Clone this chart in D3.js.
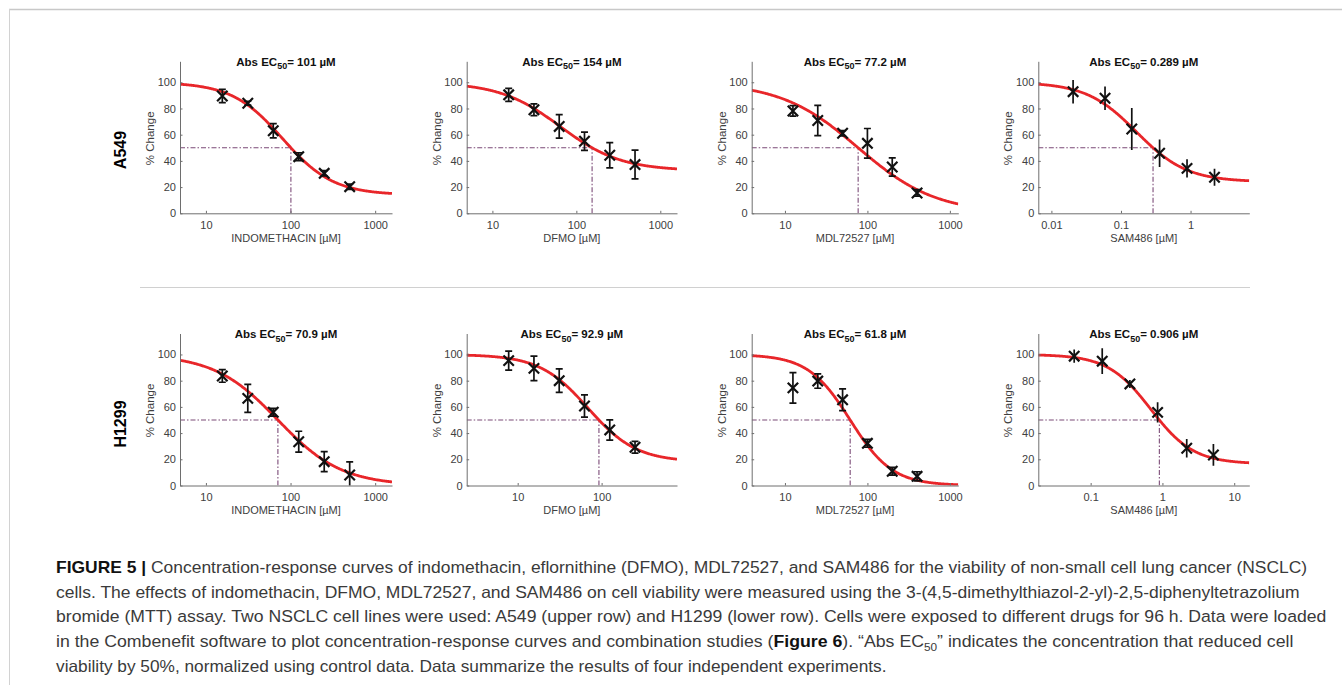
<!DOCTYPE html>
<html>
<head>
<meta charset="utf-8">
<script src="https://cdn.jsdelivr.net/npm/d3@7"></script>
<style>
  body { margin: 0; background: #fff; }
  svg { display: block; font-family: "Liberation Sans", Arial, sans-serif; }
</style>
</head>
<body>
<svg id="fig" width="1342" height="685"></svg>
<script>
// ---- values ----
var cellLines = ["A549", "H1299"];
var drugs = ["INDOMETHACIN", "DFMO", "MDL72527", "SAM486"];

// panels in row order: A549 x 4 drugs, then H1299 x 4 drugs
var conc = [
  [15.625, 31.25, 62.5, 125, 250, 500],
  [15.625, 31.25, 62.5, 125, 250, 500],
  [12.5, 25, 50, 100, 200, 400],
  [0.0205, 0.059, 0.143, 0.359, 0.89, 2.21],
  [15.625, 31.25, 62.5, 125, 250, 500],
  [7.8125, 15.625, 31.25, 62.5, 125, 250],
  [12.5, 25, 50, 100, 200, 400],
  [0.059, 0.145, 0.352, 0.857, 2.18, 5.13]
];
var meanResp = [
  [89.5, 84, 63, 43.2, 30.5, 20.3],
  [90.4, 79, 66.3, 55, 44.3, 37.2],
  [78.1, 70.8, 61.1, 53.4, 35.3, 15.5],
  [92.8, 87.8, 64.3, 45.8, 34.3, 27.5],
  [83.6, 66.5, 55.9, 33.4, 18.2, 8],
  [95.3, 89.4, 80, 60.7, 42.4, 29.2],
  [74.5, 79.7, 65.4, 32.2, 10.9, 7.0],
  [98.7, 94.9, 77.5, 55.8, 28.4, 23.3]
];
var errResp = [
  [5, 1.5, 5.5, 3, 2, 2],
  [5, 4.5, 9, 7, 9.6, 11],
  [4, 11.5, 2, 11.3, 7, 2.5],
  [9, 9, 16, 10.5, 7, 6.5],
  [4.8, 10.7, 3, 8, 7.6, 10],
  [7.3, 9.3, 9, 8.5, 7.7, 4.5],
  [11.7, 5.5, 8.3, 3, 3, 3.5],
  [5, 9.8, 3, 7.7, 7, 8.3]
];
// fitted dose-response curves (4-parameter logistic) and their Abs EC50
var ec50 = [101, 154, 77.2, 0.289, 70.9, 92.9, 61.8, 0.906];
var ec50Text = ["101", "154", "77.2", "0.289", "70.9", "92.9", "61.8", "0.906"];
var fitTop = [100, 100, 100, 100, 100, 100, 100, 100];
var fitBottom = [14, 32.5, 0, 24, 0, 18, 0, 16.5];
var fitHill = [1.45, 1.2, 0.92, 1.2, 1.15, 1.5, 1.7, 1.45];

var xTicks = [
  [10, 100, 1000], [10, 100, 1000], [10, 100, 1000], [0.01, 0.1, 1],
  [10, 100, 1000], [10, 100], [10, 100, 1000], [0.1, 1, 10]
];
var yTicks = [0, 20, 40, 60, 80, 100];

var captionLines = [
  [["b", "FIGURE 5 | "], ["n", "Concentration-response curves of indomethacin, eflornithine (DFMO), MDL72527, and SAM486 for the viability of non-small cell lung cancer (NSCLC)"]],
  [["n", "cells. The effects of indomethacin, DFMO, MDL72527, and SAM486 on cell viability were measured using the 3-(4,5-dimethylthiazol-2-yl)-2,5-diphenyltetrazolium"]],
  [["n", "bromide (MTT) assay. Two NSCLC cell lines were used: A549 (upper row) and H1299 (lower row). Cells were exposed to different drugs for 96 h. Data were loaded"]],
  [["n", "in the Combenefit software to plot concentration-response curves and combination studies ("], ["b", "Figure 6"], ["n", "). \u201CAbs EC"], ["s", "50"], ["n", "\u201D indicates the concentration that reduced cell"]],
  [["n", "viability by 50%, normalized using control data. Data summarize the results of four independent experiments."]]
];

// ---- layout ----
var W = 1342, H = 685;
var colL = [180, 466.7, 751.7, 1038.3];
var colR = [392, 677, 958.3, 1249.3];
var rowY0 = [213.3, 485.5];
var plotH = 152, yMax = 116;
var axisCol = "#6e6e6e", labelCol = "#404040";

var svg = d3.select("#fig");
var defs = svg.append("defs");

// frame rules and row separator
svg.append("line").attr("x1", 9).attr("x2", W).attr("y1", 9.5).attr("y2", 9.5)
  .attr("stroke", "#c8c8c8").attr("stroke-width", 1.6);
svg.append("line").attr("x1", 9.5).attr("x2", 9.5).attr("y1", 9).attr("y2", H)
  .attr("stroke", "#d2d2d2").attr("stroke-width", 1);
svg.append("line").attr("x1", 140).attr("x2", 1250).attr("y1", 287.5).attr("y2", 287.5)
  .attr("stroke", "#d0d0d0").attr("stroke-width", 1);

// row labels
cellLines.forEach(function (name, r) {
  svg.append("text")
    .attr("transform", "translate(125.5," + (r === 0 ? 150 : 424) + ") rotate(-90)")
    .attr("text-anchor", "middle")
    .attr("font-weight", "bold").attr("font-size", 16).attr("fill", "#000")
    .text(name);
});

conc.forEach(function (cx, i) {
  var r = Math.floor(i / 4), c = i % 4;
  var lo = d3.min(cx) / Math.sqrt(10), hi = d3.max(cx) * Math.sqrt(10);
  var x = d3.scaleLog().domain([lo, hi]).range([colL[c], colR[c]]);
  var y = d3.scaleLinear().domain([0, yMax]).range([rowY0[r], rowY0[r] - plotH]);
  var g = svg.append("g");

  defs.append("clipPath").attr("id", "clip" + i).append("rect")
    .attr("x", colL[c]).attr("y", rowY0[r] - plotH)
    .attr("width", colR[c] - colL[c]).attr("height", plotH);
  var pg = g.append("g").attr("clip-path", "url(#clip" + i + ")");

  // EC50 guide lines
  var dashCol = "#7b4a77";
  pg.append("line").attr("x1", x(lo)).attr("x2", x(ec50[i])).attr("y1", y(50)).attr("y2", y(50))
    .attr("stroke", dashCol).attr("stroke-width", 1.1).attr("stroke-dasharray", "5,2,1.5,2");
  pg.append("line").attr("x1", x(ec50[i])).attr("x2", x(ec50[i])).attr("y1", y(0)).attr("y2", y(50))
    .attr("stroke", dashCol).attr("stroke-width", 1.1).attr("stroke-dasharray", "5,2,1.5,2");

  // fitted curve
  var c50 = ec50[i] / Math.pow((fitTop[i] - 50) / (50 - fitBottom[i]), 1 / fitHill[i]);
  var resp = function (v) {
    return fitBottom[i] + (fitTop[i] - fitBottom[i]) / (1 + Math.pow(v / c50, fitHill[i]));
  };
  var xs = d3.range(0, 301).map(function (k) {
    return Math.pow(10, Math.log10(lo) + (Math.log10(hi) - Math.log10(lo)) * k / 300);
  });
  pg.append("path")
    .attr("d", d3.line().x(function (v) { return x(v); }).y(function (v) { return y(resp(v)); })(xs))
    .attr("fill", "none").attr("stroke", "#e8262a").attr("stroke-width", 2.8);

  // error bars
  var cap = c === 3 ? 0 : 3.5;
  var pts = cx.map(function (v, k) { return { x: v, m: meanResp[i][k], e: errResp[i][k] }; });
  var eb = pg.selectAll("g.eb").data(pts).join("g").attr("class", "eb")
    .attr("stroke", "#111").attr("stroke-width", 1.7);
  eb.append("line").attr("x1", function (d) { return x(d.x); }).attr("x2", function (d) { return x(d.x); })
    .attr("y1", function (d) { return y(d.m - d.e); }).attr("y2", function (d) { return y(d.m + d.e); });
  if (cap > 0) {
    [-1, 1].forEach(function (s) {
      eb.append("line")
        .attr("x1", function (d) { return x(d.x) - cap; }).attr("x2", function (d) { return x(d.x) + cap; })
        .attr("y1", function (d) { return y(d.m + s * d.e); }).attr("y2", function (d) { return y(d.m + s * d.e); });
    });
  }

  // x markers
  g.selectAll("path.mk").data(pts).join("path").attr("class", "mk")
    .attr("d", function (d) {
      var px = x(d.x), py = y(d.m), a = 5.2;
      return "M" + (px - a) + "," + (py - a) + "L" + (px + a) + "," + (py + a) +
             "M" + (px - a) + "," + (py + a) + "L" + (px + a) + "," + (py - a);
    })
    .attr("stroke", "#111").attr("stroke-width", 2.2).attr("fill", "none");

  // axes
  var ax = g.append("g").attr("transform", "translate(0," + rowY0[r] + ")")
    .call(d3.axisBottom(x).tickValues(xTicks[i]).tickFormat(function (d) { return String(d); })
      .tickSizeInner(-2.5).tickSizeOuter(0).tickPadding(7.5));
  var ay = g.append("g").attr("transform", "translate(" + colL[c] + ",0)")
    .call(d3.axisLeft(y).tickValues(yTicks).tickSizeInner(-2.5).tickSizeOuter(0).tickPadding(4));
  [ax, ay].forEach(function (a) {
    a.attr("font-family", null).attr("font-size", null);
    a.select(".domain").attr("stroke", axisCol).attr("stroke-width", 1);
    a.selectAll(".tick line").attr("stroke", axisCol);
    a.selectAll(".tick text").attr("fill", labelCol).attr("font-size", 11);
  });

  // labels
  var midX = (colL[c] + colR[c]) / 2;
  g.append("text").attr("x", midX).attr("y", rowY0[r] + 28.5)
    .attr("text-anchor", "middle").attr("font-size", 11).attr("fill", labelCol)
    .text(drugs[c] + " [\u00B5M]");
  g.append("text")
    .attr("transform", "translate(" + (colL[c] - 26) + "," + (rowY0[r] - plotH / 2 + 1) + ") rotate(-90)")
    .attr("text-anchor", "middle").attr("font-size", 11.5).attr("fill", labelCol)
    .text("% Change");
  var t = g.append("text").attr("x", midX).attr("y", rowY0[r] - 147.5)
    .attr("text-anchor", "middle").attr("font-size", 11.5).attr("font-weight", "bold").attr("fill", "#111");
  t.append("tspan").text("Abs EC");
  t.append("tspan").attr("font-size", 9).attr("dy", 3.5).text("50");
  t.append("tspan").attr("dy", -3.5).text("= " + ec50Text[i] + " \u00B5M");
});

// caption
var capX = 56;
var capEnd = [1308, 1300, 1327.7, 1294, 887];
var capBase = [572.8, 597.5, 622.3, 647, 671.8];
captionLines.forEach(function (parts, li) {
  var t = svg.append("text").attr("font-size", 16.5).attr("fill", "#3a3a3a");
  parts.forEach(function (p, k) {
    var s = t.append("tspan").text(p[1]);
    if (p[0] === "b") s.attr("font-weight", "bold").attr("fill", "#111");
    if (p[0] === "s") s.attr("font-size", 11).attr("dy", 4);
    if (k > 0 && parts[k - 1][0] === "s") s.attr("dy", -4);
  });
  var w = t.node().getComputedTextLength();
  t.attr("transform", "translate(" + capX + "," + capBase[li] + ") scale(" + ((capEnd[li] - capX) / w) + ",1)");
});
</script>
</body>
</html>
